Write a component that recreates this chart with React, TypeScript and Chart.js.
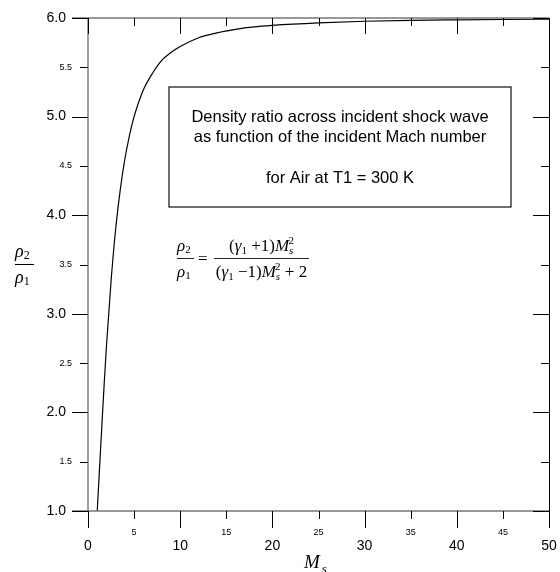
import React, { useEffect, useRef } from "react";
import { Chart, registerables } from "chart.js";

Chart.register(...registerables);

// Data
const machNumbers = [1, 1.25, 1.5, 1.75, 2, 2.5, 3, 3.5, 4, 4.5, 5, 6, 7, 8, 9, 10, 12, 14, 16, 18, 20, 25, 30, 35, 40, 45, 50];
const densityRatios = [1.0, 1.43, 1.86, 2.28, 2.67, 3.33, 3.86, 4.26, 4.57, 4.81, 5.0, 5.27, 5.44, 5.57, 5.65, 5.71, 5.8, 5.85, 5.885, 5.91, 5.925, 5.95, 5.967, 5.976, 5.981, 5.985, 5.988];

const xMajorTicks = [0, 10, 20, 30, 40, 50];
const xMinorTicks = [5, 15, 25, 35, 45];
const yMajorTicks = [1, 2, 3, 4, 5, 6];
const yMinorTicks = [1.5, 2.5, 3.5, 4.5, 5.5];

const boxLines = [
  "Density ratio across incident shock wave",
  "as function of the incident Mach number",
  "",
  "for Air at T1 = 300 K",
];

type Run = { t: string; font: string; dy?: number; dx?: number };

function runsWidth(ctx: CanvasRenderingContext2D, runs: Run[]) {
  let w = 0;
  for (const r of runs) {
    ctx.font = r.font;
    w += ctx.measureText(r.t).width + (r.dx || 0);
  }
  return w;
}

function drawRuns(ctx: CanvasRenderingContext2D, runs: Run[], x: number, y: number) {
  let cx = x;
  ctx.textAlign = "left";
  ctx.textBaseline = "alphabetic";
  for (const r of runs) {
    ctx.font = r.font;
    cx += r.dx || 0;
    ctx.fillText(r.t, cx, y + (r.dy || 0));
    cx += ctx.measureText(r.t).width;
  }
  return cx;
}

const decorPlugin = {
  id: "decor",
  afterDraw(chart: any) {
    const ctx: CanvasRenderingContext2D = chart.ctx;
    const xs = chart.scales.x;
    const ys = chart.scales.y;
    const { left, right, top, bottom } = chart.chartArea;
    ctx.save();

    // axis lines
    ctx.strokeStyle = "#777";
    ctx.lineWidth = 1.4;
    ctx.beginPath();
    ctx.moveTo(left, top);
    ctx.lineTo(left, bottom);
    ctx.moveTo(left - 16, top);
    ctx.lineTo(right, top);
    ctx.moveTo(left - 16, bottom);
    ctx.lineTo(right, bottom);
    ctx.stroke();
    ctx.strokeStyle = "#000";
    ctx.lineWidth = 1;
    ctx.beginPath();
    ctx.moveTo(right + 0.5, top);
    ctx.lineTo(right + 0.5, bottom);
    ctx.stroke();

    // ticks
    ctx.strokeStyle = "#000";
    ctx.lineWidth = 1;
    ctx.beginPath();
    for (const v of yMajorTicks) {
      const py = Math.round(ys.getPixelForValue(v)) + 0.5;
      ctx.moveTo(left - 16, py);
      ctx.lineTo(left, py);
      ctx.moveTo(right, py);
      ctx.lineTo(right - 16, py);
    }
    for (const v of yMinorTicks) {
      const py = Math.round(ys.getPixelForValue(v)) + 0.5;
      ctx.moveTo(left - 8, py);
      ctx.lineTo(left, py);
      ctx.moveTo(right, py);
      ctx.lineTo(right - 8, py);
    }
    for (const v of xMajorTicks) {
      const px = Math.round(xs.getPixelForValue(v)) + 0.5;
      ctx.moveTo(px, bottom);
      ctx.lineTo(px, bottom + 17);
      ctx.moveTo(px, top);
      ctx.lineTo(px, top + 16);
    }
    for (const v of xMinorTicks) {
      const px = Math.round(xs.getPixelForValue(v)) + 0.5;
      ctx.moveTo(px, bottom);
      ctx.lineTo(px, bottom + 8);
      ctx.moveTo(px, top);
      ctx.lineTo(px, top + 8);
    }
    ctx.stroke();

    // tick labels
    ctx.fillStyle = "#000";
    ctx.textBaseline = "middle";
    ctx.textAlign = "right";
    ctx.font = "14px 'Liberation Sans', Arial, sans-serif";
    for (const v of yMajorTicks) ctx.fillText(v.toFixed(1), left - 22, ys.getPixelForValue(v));
    ctx.font = "9px 'Liberation Sans', Arial, sans-serif";
    for (const v of yMinorTicks) ctx.fillText(v.toFixed(1), left - 16, ys.getPixelForValue(v));
    ctx.textAlign = "center";
    ctx.font = "14px 'Liberation Sans', Arial, sans-serif";
    for (const v of xMajorTicks) ctx.fillText(String(v), xs.getPixelForValue(v), bottom + 35);
    ctx.font = "9px 'Liberation Sans', Arial, sans-serif";
    for (const v of xMinorTicks) ctx.fillText(String(v), xs.getPixelForValue(v), bottom + 22);

    // x axis title M_s
    const serifI = "italic 19px 'Liberation Serif', 'Times New Roman', serif";
    const serifIs = "italic 13px 'Liberation Serif', 'Times New Roman', serif";
    drawRuns(ctx, [
      { t: "M", font: serifI },
      { t: "s", font: serifIs, dy: 5, dx: 2 },
    ], 304, 568);

    // y axis title rho2 / rho1
    const rho = "italic 18px 'Liberation Serif', 'Times New Roman', serif";
    const sub = "12px 'Liberation Serif', 'Times New Roman', serif";
    drawRuns(ctx, [{ t: "ρ", font: rho }, { t: "2", font: sub, dy: 2 }], 15, 257);
    drawRuns(ctx, [{ t: "ρ", font: rho }, { t: "1", font: sub, dy: 2 }], 15, 283);
    ctx.strokeStyle = "#000";
    ctx.lineWidth = 1;
    ctx.beginPath();
    ctx.moveTo(15, 264.5);
    ctx.lineTo(34, 264.5);
    ctx.stroke();

    // annotation box
    ctx.strokeStyle = "#222";
    ctx.lineWidth = 1.3;
    ctx.strokeRect(169, 87, 342, 120);
    ctx.fillStyle = "#000";
    ctx.textAlign = "center";
    ctx.textBaseline = "middle";
    ctx.font = "16.5px 'Liberation Sans', Arial, sans-serif";
    const boxYs = [117, 137, 157, 178];
    boxLines.forEach((l, i) => {
      if (l) ctx.fillText(l, 340, boxYs[i]);
    });

    // formula
    const f = "17px 'Liberation Serif', 'Times New Roman', serif";
    const fi = "italic 17px 'Liberation Serif', 'Times New Roman', serif";
    const fs = "11px 'Liberation Serif', 'Times New Roman', serif";
    const fsi = "italic 11px 'Liberation Serif', 'Times New Roman', serif";
    // left fraction
    drawRuns(ctx, [{ t: "ρ", font: fi }, { t: "2", font: fs, dy: 2 }], 177, 251);
    drawRuns(ctx, [{ t: "ρ", font: fi }, { t: "1", font: fs, dy: 2 }], 177, 277);
    ctx.lineWidth = 1;
    ctx.beginPath();
    ctx.moveTo(177, 258.5);
    ctx.lineTo(194, 258.5);
    ctx.stroke();
    ctx.font = f;
    ctx.textAlign = "left";
    ctx.textBaseline = "alphabetic";
    ctx.fillText("=", 198, 264);
    const num: Run[] = [
      { t: "(", font: f },
      { t: "γ", font: fi },
      { t: "1", font: fs, dy: 3 },
      { t: " +1)", font: f },
      { t: "M", font: fi },
      { t: "s", font: fsi, dy: 3 },
      { t: "2", font: fs, dy: -7, dx: -5 },
    ];
    const den: Run[] = [
      { t: "(", font: f },
      { t: "γ", font: fi },
      { t: "1", font: fs, dy: 3 },
      { t: " −1)", font: f },
      { t: "M", font: fi },
      { t: "s", font: fsi, dy: 3 },
      { t: "2", font: fs, dy: -7, dx: -5 },
      { t: " + 2", font: f },
    ];
    const fracL = 214;
    const fracR = 309;
    const cx = (fracL + fracR) / 2;
    drawRuns(ctx, num, cx - runsWidth(ctx, num) / 2, 251);
    drawRuns(ctx, den, cx - runsWidth(ctx, den) / 2, 277);
    ctx.beginPath();
    ctx.moveTo(fracL, 258.5);
    ctx.lineTo(fracR, 258.5);
    ctx.stroke();

    ctx.restore();
  },
};

export default function App() {
  const canvasRef = useRef<HTMLCanvasElement | null>(null);

  useEffect(() => {
    const canvas = canvasRef.current;
    if (!canvas) return;
    const chart = new Chart(canvas, {
      type: "line",
      data: {
        datasets: [
          {
            label: "rho2/rho1",
            data: machNumbers.map((m, i) => ({ x: m, y: densityRatios[i] })),
            borderColor: "#000",
            borderWidth: 1.2,
            pointRadius: 0,
            fill: false,
            cubicInterpolationMode: "monotone",
          },
        ],
      },
      options: {
        animation: false,
        responsive: false,
        devicePixelRatio: 1,
        layout: { padding: { left: 88, top: 18, right: 11, bottom: 61 } },
        plugins: { legend: { display: false }, tooltip: { enabled: false } },
        scales: {
          x: { type: "linear", min: 0, max: 50, display: false },
          y: { type: "linear", min: 1, max: 6, display: false },
        },
      },
      plugins: [decorPlugin],
    });
    return () => chart.destroy();
  }, []);

  return (
    <div style={{ position: "absolute", left: 0, top: 0, width: 560, height: 572, background: "#fff" }}>
      <canvas ref={canvasRef} width={560} height={572} style={{ display: "block" }} />
    </div>
  );
}
